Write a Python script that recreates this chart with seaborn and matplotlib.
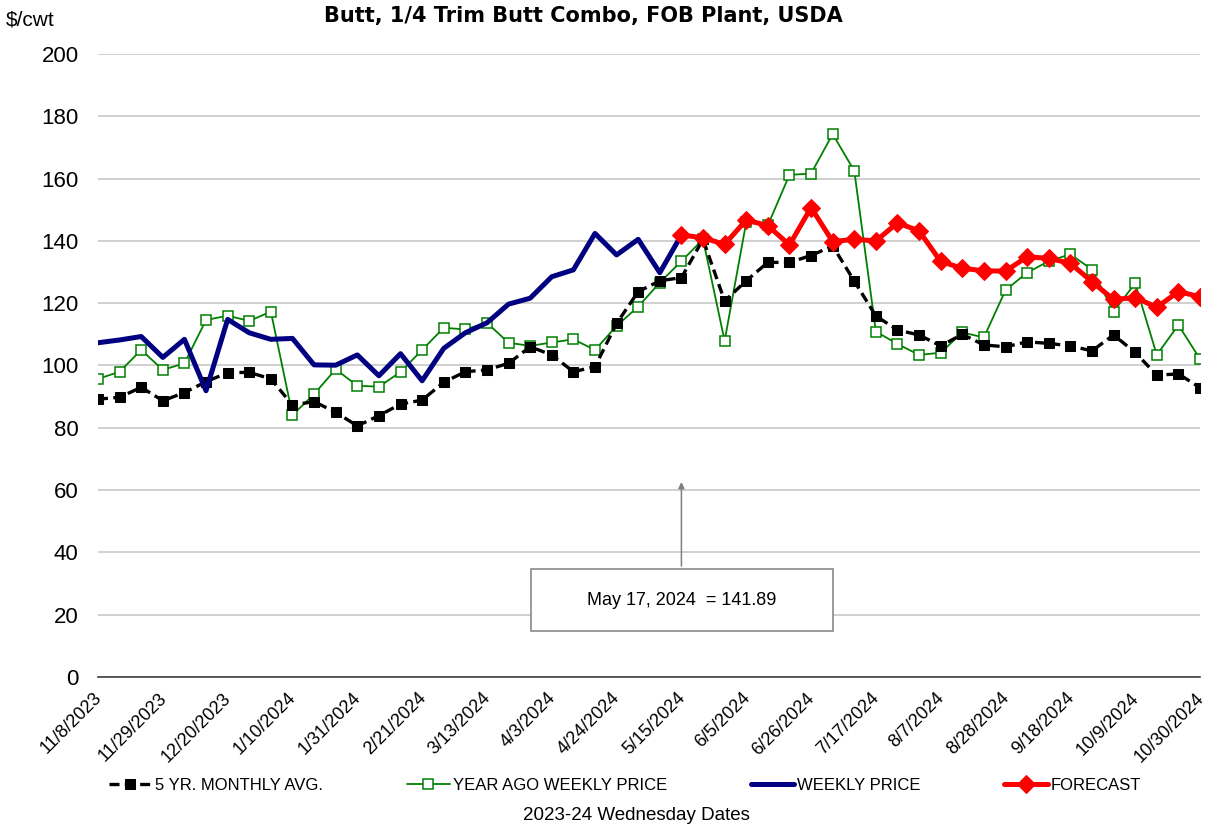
import numpy as np
import pandas as pd
import matplotlib.pyplot as plt
import matplotlib.transforms as mtransforms
import seaborn as sns
from matplotlib.patches import Rectangle

# weekly wednesday dates, 11/8/2023 .. 10/30/2024
dates = pd.date_range("2023-11-08", "2024-10-30", freq="7D")
tick_labels = [f"{d.month}/{d.day}/{d.year}" for d in dates[::3]]

five_yr_avg = [89.2, 89.8, 93.0, 88.7, 91.3, 94.8, 97.7, 97.8, 95.7, 87.3,
               88.4, 85.0, 80.6, 83.9, 87.6, 88.9, 94.6, 98.0, 98.6, 100.7,
               106.0, 103.4, 98.0, 99.6, 113.5, 123.7, 127.2, 128.2, 140.5, 120.7,
               127.2, 133.1, 133.1, 135.3, 138.4, 127.1, 115.9, 111.4, 109.8, 106.3,
               110.0, 106.6, 106.0, 107.6, 107.1, 106.3, 104.7, 109.8, 104.2, 96.9,
               97.3, 92.9]

year_ago = [95.7, 98.0, 105.0, 98.6, 100.7, 114.6, 116.0, 114.3, 117.3, 84.1,
            90.8, 98.8, 93.5, 93.2, 97.9, 105.0, 112.1, 111.6, 113.7, 107.3,
            106.3, 107.4, 108.4, 105.0, 112.7, 118.9, 126.6, 133.5, 140.5, 107.9,
            146.0, 145.0, 161.2, 161.6, 174.3, 162.5, 110.9, 106.9, 103.4, 104.1,
            110.6, 109.0, 124.2, 129.8, 133.5, 135.7, 130.8, 117.3, 126.4, 103.4,
            113.0, 102.1]

weekly_price = [107.3, 108.2, 109.3, 102.6, 108.4, 91.9, 114.8, 110.5, 108.4, 108.7,
                100.2, 100.1, 103.4, 96.7, 103.8, 95.1, 105.5, 110.5, 113.7, 119.7,
                121.6, 128.5, 130.7, 142.4, 135.5, 140.5, 129.8, 141.89]

forecast = [141.89, 141.0, 138.9, 146.7, 144.9, 138.7, 150.7, 139.8, 140.5, 140.0,
            145.8, 143.2, 133.4, 131.2, 130.4, 130.3, 134.9, 134.4, 132.8, 126.9,
            121.2, 121.8, 118.7, 123.7, 122.1]

weeks = np.arange(len(dates))
n_weekly = len(weekly_price)

sns.set_style("white")
plt.rcParams['font.family'] = ['Liberation Sans', 'DejaVu Sans']
plt.rcParams['text.color'] = 'black'
plt.rcParams['xtick.color'] = 'black'
plt.rcParams['ytick.color'] = 'black'

fig = plt.figure(figsize=(12.08, 8.33), dpi=100)
ax = fig.add_axes([98 / 1208, 156 / 833, 1102 / 1208, 623 / 833])

sns.lineplot(x=weeks, y=year_ago, ax=ax, color="#008000", lw=1.3, marker="s",
             markersize=6.5, markerfacecolor="white", markeredgecolor="#008000",
             markeredgewidth=1.1, label="YEAR AGO WEEKLY PRICE", zorder=3)
sns.lineplot(x=weeks, y=five_yr_avg, ax=ax, color="black", lw=2.4, marker="s",
             markersize=6.5, markeredgecolor="black", label="5 YR. MONTHLY AVG.",
             zorder=4)
ax.lines[-1].set_dashes([3, 1.6])
sns.lineplot(x=weeks[:n_weekly], y=weekly_price, ax=ax, color="#000080", lw=3.6,
             label="WEEKLY PRICE", zorder=5)
sns.lineplot(x=weeks[n_weekly - 1:], y=forecast, ax=ax, color="#FF0000", lw=3.6,
             marker="D", markersize=9, markeredgecolor="#FF0000",
             label="FORECAST", zorder=6)

ax.set_xlim(0, len(dates) - 1)
ax.set_ylim(0, 200)
ax.set_yticks(range(0, 201, 20))
ax.tick_params(axis="y", labelsize=16, length=0, pad=14)
ax.set_xticks(weeks[::3])
ax.set_xticklabels(tick_labels, rotation=45, ha="right", rotation_mode="anchor",
                   fontsize=13)
ax.tick_params(axis="x", direction="out", length=5, color="#404040", pad=4)
shift = mtransforms.ScaledTranslation(-5 / 100, 0, fig.dpi_scale_trans)
for lab in ax.get_xticklabels():
    lab.set_transform(lab.get_transform() + shift)
ax.grid(axis="y", color="#c8c8c8", lw=1.2)
for s in ["top", "right", "left"]:
    ax.spines[s].set_visible(False)
ax.spines["bottom"].set_color("#404040")
ax.spines["bottom"].set_linewidth(1.2)

fig.text(583 / 1208, 1 - 16 / 833, "Butt, 1/4 Trim Butt Combo, FOB Plant, USDA",
         fontsize=15, fontweight="bold", ha="center", va="center",
         family="DejaVu Sans")
fig.text(6 / 1208, 1 - 20 / 833, "$/cwt", fontsize=15, va="center")
fig.text(636 / 1208, 1 - 816 / 833, "2023-24 Wednesday Dates", fontsize=13.5,
         ha="center", va="center")
ax.set_xlabel("")
ax.set_ylabel("")

# legend in the reference's order
h, l = ax.get_legend_handles_labels()
order = [l.index(k) for k in ["5 YR. MONTHLY AVG.", "YEAR AGO WEEKLY PRICE",
                              "WEEKLY PRICE", "FORECAST"]]
ax.legend([h[i] for i in order], [l[i] for i in order], loc="center",
          bbox_to_anchor=((625 - 98) / 1102, -0.174), ncol=4, frameon=False,
          fontsize=12, handlelength=2.6, handletextpad=0.2, columnspacing=5.0,
          borderpad=0)

# callout box with arrow
ax.add_patch(Rectangle((20.05, 14.8), 13.98, 19.9, facecolor="white",
                       edgecolor="#808080", lw=1.1, zorder=7))
ax.text(27.0, 24.7, "May 17, 2024  = 141.89", ha="center", va="center",
        fontsize=13, zorder=8)
ax.annotate("", xy=(27, 63.5), xytext=(27, 34.7),
            arrowprops=dict(arrowstyle="-|>", color="#808080", lw=1.1,
                            mutation_scale=9), zorder=7)

fig.savefig("out.png", dpi=100)
